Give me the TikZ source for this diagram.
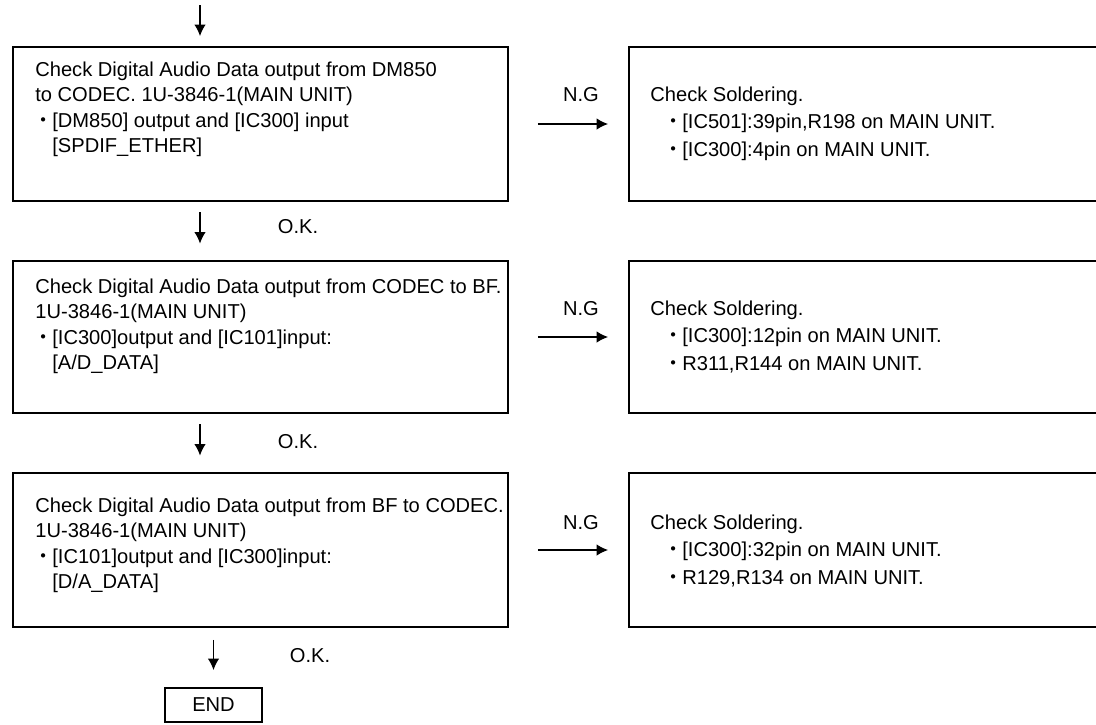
\documentclass[tikz,border=0pt]{standalone}
\usepackage{fontspec}
\setmainfont{Liberation Sans}
\newfontfamily\cjk{Noto Sans CJK JP}
\usetikzlibrary{arrows.meta}
\newcommand{\bul}{\makebox[0.34cm]{\cjk ・}}
\newcommand{\ind}{\hspace*{0.34cm}}

\begin{document}
\begin{tikzpicture}[x=0.02cm, y=-0.02cm,
    every node/.style={font=\fontsize{11.45pt}{14.5pt}\selectfont},
    box/.style={draw, line width=1.1pt, minimum width=9.9cm, minimum height=3.08cm, inner sep=0pt},
    fixbox/.style={draw, line width=1.1pt, minimum width=10cm, minimum height=3.08cm, inner sep=0pt},
    txt/.style={anchor=north west, align=left, inner sep=0pt},
    fixtxt/.style={txt, font=\fontsize{11.45pt}{15.6pt}\selectfont},
    flow/.style={line width=0.75pt, -{Latex[length=6.5pt,width=6.5pt]}}]
    \useasboundingbox (0,0) rectangle (1096,724);

    % Checks on the signal path
    \node[box] (b1) at (260.5,124) {};
    \node[box, minimum height=3.04cm] (b2) at (260.5,337) {};
    \node[box] (b3) at (260.5,550) {};
    \node[txt] (t1) at (35,61.4) {Check Digital Audio Data output from DM850\\
      to CODEC. 1U-3846-1(MAIN UNIT)\\
      \bul[DM850] output and [IC300] input\\
      \ind[SPDIF\_ETHER]};
    \node[txt] (t2) at (35,278.4) {Check Digital Audio Data output from CODEC to BF.\\
      1U-3846-1(MAIN UNIT)\\
      \bul[IC300]output and [IC101]input:\\
      \ind[A/D\_DATA]};
    \node[txt] (t3) at (35,497.4) {Check Digital Audio Data output from BF to CODEC.\\
      1U-3846-1(MAIN UNIT)\\
      \bul[IC101]output and [IC300]input:\\
      \ind[D/A\_DATA]};

    % Soldering checks (run off the right edge)
    \node[fixbox] (r1) at (879,124) {};
    \node[fixbox, minimum height=3.04cm] (r2) at (879,337) {};
    \node[fixbox] (r3) at (879,550) {};
    \node[fixtxt] (s1) at (650,86.4) {Check Soldering.\\
      \hspace*{0.3cm}\bul[IC501]:39pin,R198 on MAIN UNIT.\\
      \hspace*{0.3cm}\bul[IC300]:4pin on MAIN UNIT.};
    \node[fixtxt] (s2) at (650,300.4) {Check Soldering.\\
      \hspace*{0.3cm}\bul[IC300]:12pin on MAIN UNIT.\\
      \hspace*{0.3cm}\bul R311,R144 on MAIN UNIT.};
    \node[fixtxt] (s3) at (650,514.4) {Check Soldering.\\
      \hspace*{0.3cm}\bul[IC300]:32pin on MAIN UNIT.\\
      \hspace*{0.3cm}\bul R129,R134 on MAIN UNIT.};

    % N.G branches
    \foreach \i/\y in {1/101, 2/315, 3/529} {
      \draw[flow, shorten <=0.58cm, shorten >=0.4cm] (b\i) -- (r\i);
      \node[anchor=base] (ng\i) at (581,\y) {N.G};
    }

    % O.K. path
    \coordinate (spine) at (200,0);
    \coordinate (entry) at (200,5);
    \draw[flow, shorten >=0.2cm] (entry) -- (b1.north -| entry);
    \foreach \i/\j/\y in {1/2/233, 2/3/448} {
      \draw[flow, shorten <=0.21cm, shorten >=0.33cm] (b\i.south -| spine) -- (b\j.north -| spine);
      \node[anchor=base] (ok\i) at (298,\y) {O.K.};
    }
    \node[draw, line width=1.1pt, minimum width=1.94cm, minimum height=0.68cm, inner sep=0pt] (stop) at (213.5,705) {END};
    \draw[flow, shorten <=0.24cm, shorten >=0.34cm] (b3.south -| stop) -- (stop);
    \node[anchor=base] (ok3) at (310,662) {O.K.};
\end{tikzpicture}
\end{document}
